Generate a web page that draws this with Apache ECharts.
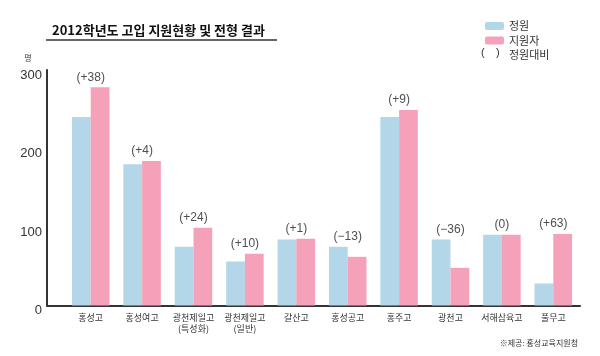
<!DOCTYPE html>
<html><head><meta charset="utf-8">
<script src="https://cdn.jsdelivr.net/npm/echarts@6/dist/echarts.min.js"></script>
<style>html,body{margin:0;padding:0;background:#fff}#c{width:600px;height:356px}</style>
</head><body><div id="c"></div>
<script>
const categories = ['홍성고','홍성여고','광천제일고\n(특성화)','광천제일고\n(일반)','갈산고','홍성공고','홍주고','광천고','서해삼육고','풀무고'];
const quota = [240,180,75,56,84,75,240,84,90,28];
const applicants = [278,184,99,66,85,62,249,48,90,91];
const diffLabels = ['(+38)','(+4)','(+24)','(+10)','(+1)','(−13)','(+9)','(−36)','(0)','(+63)'];
const yMin = 0, yMax = 300, yStep = 100;
const titleText = '2012학년도 고입 지원현황 및 전형 결과';
const sourceText = '※제공: 홍성교육지원청';
const unitText = '명';

const KR = 'Noto Sans CJK KR';
const LAT = '"Liberation Sans", "Noto Sans CJK KR"';
const BLUE = '#b3d6e8', PINK = '#f4a1b9';
const topVals = quota.map((q,i)=>Math.max(q, applicants[i]));

const chart = echarts.init(document.getElementById('c'));
chart.setOption({
  animation:false,
  title:{text:titleText,left:47,top:19,textStyle:{fontFamily:KR,fontWeight:'bold',fontSize:13,color:'#111'}},
  legend:{orient:'vertical',left:480,top:15,itemWidth:19,itemHeight:8,itemGap:2.5,selectedMode:false,
    textStyle:{fontFamily:KR,fontSize:11,lineHeight:12,color:'#333'},
    data:[{name:'정원'},{name:'지원자'},{name:'정원대비',icon:'none'}]},
  grid:[{left:47,right:20,top:70,bottom:50.5},{left:65,right:21,top:70,bottom:50.5}],
  xAxis:[
    {gridIndex:0,type:'value',min:0,max:1,axisLine:{show:true,lineStyle:{color:'#333',width:2}},axisTick:{show:false},axisLabel:{show:false},splitLine:{show:false}},
    {gridIndex:1,type:'category',data:categories,axisLine:{show:false},axisTick:{show:false},
      axisLabel:{interval:0,margin:7,fontFamily:KR,fontSize:9,lineHeight:11,color:'#333'}}
  ],
  yAxis:[
    {gridIndex:0,type:'value',min:yMin,max:yMax,interval:yStep,axisLine:{show:true,lineStyle:{color:'#333',width:2}},axisTick:{show:false},splitLine:{show:false},
      axisLabel:{margin:5,fontFamily:LAT,fontSize:13,lineHeight:10,verticalAlign:'top',color:'#333'}},
    {gridIndex:1,type:'value',min:yMin,max:yMax,interval:yStep,show:false}
  ],
  series:[
    {name:'정원',type:'bar',xAxisIndex:1,yAxisIndex:1,data:quota,barGap:0,barCategoryGap:'27%',itemStyle:{color:BLUE}},
    {name:'지원자',type:'bar',xAxisIndex:1,yAxisIndex:1,data:applicants,barGap:0,barCategoryGap:'27%',itemStyle:{color:PINK}},
    {name:'정원대비',type:'scatter',xAxisIndex:1,yAxisIndex:1,data:topVals,symbolSize:0,itemStyle:{color:'#333'},
      label:{show:true,position:'top',distance:4,fontFamily:LAT,fontSize:12,color:'#222',formatter:p=>diffLabels[p.dataIndex]}}
  ],
  graphic:[
    {type:'line',shape:{x1:46,y1:40,x2:277,y2:40},style:{stroke:'#333',lineWidth:1.5}},
    {type:'text',x:481,y:53,style:{text:'(',fontFamily:LAT,fontSize:11,fill:'#333',verticalAlign:'middle'}},
    {type:'text',x:496,y:53,style:{text:')',fontFamily:LAT,fontSize:11,fill:'#333',verticalAlign:'middle'}},
    {type:'text',x:28,y:58,style:{text:unitText,fontFamily:KR,fontSize:8,fill:'#333',align:'center',verticalAlign:'middle'}},
    {type:'text',x:578,y:343,style:{text:sourceText,fontFamily:KR,fontSize:8,fill:'#333',align:'right',verticalAlign:'middle'}}
  ]
});
</script></body></html>
